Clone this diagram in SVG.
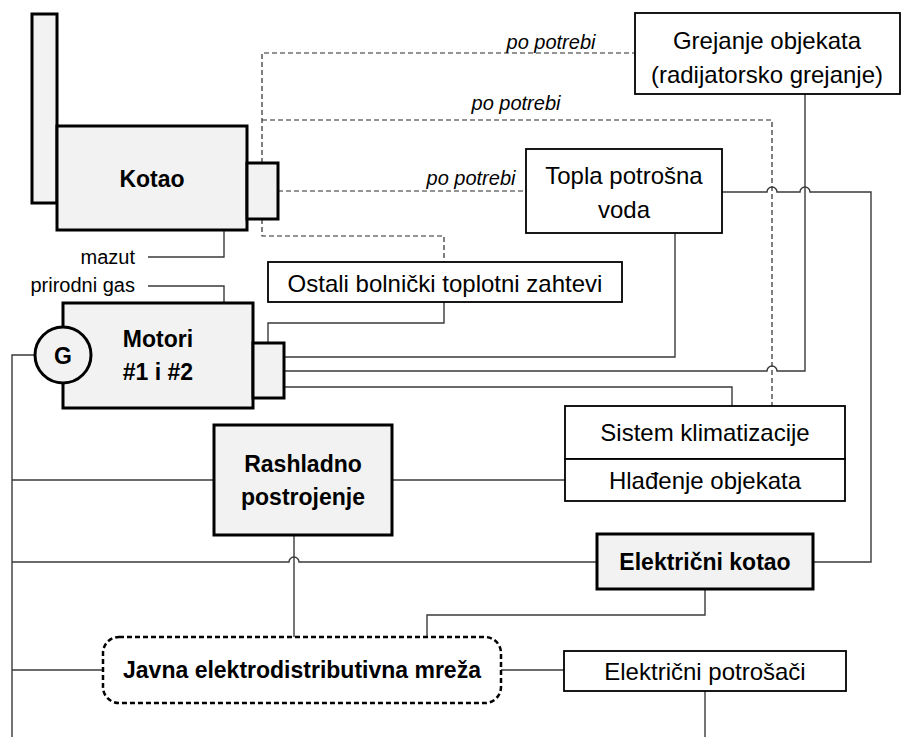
<svg xmlns="http://www.w3.org/2000/svg" width="904" height="737" viewBox="0 0 904 737">
<style>
text{font-family:"Liberation Sans",Arial,sans-serif;fill:#000;text-anchor:middle;dominant-baseline:central}
.r{font-size:24px}
.b{font-size:23px;font-weight:bold}
.i{font-size:20px;font-style:italic}
.s{font-size:20px}
.g{fill:#f2f2f2;stroke:#000;stroke-width:3}
.w{fill:#fff;stroke:#000;stroke-width:1.8}
.c{fill:none;stroke:#3a3a3a;stroke-width:1.4}
.d{fill:none;stroke:#2a2a2a;stroke-width:1.2;stroke-dasharray:5 3}
</style>
<rect width="904" height="737" fill="#fff"/>
<g id="connectors">
<path class="d" d="M262,219 V53 H635"/>
<path class="d" d="M262,120 H772 V406"/>
<path class="d" d="M278,191 H526"/>
<path class="d" d="M262,219 V236 H444 V262"/>
<path class="c" d="M722,192 H767 A5,5 0 0 1 777,192 H800 A5,5 0 0 1 810,192 H871 V562 H813"/>
<path class="c" d="M805,94 V371 H777 A5,5 0 0 0 767,371 H284"/>
<path class="c" d="M675,233 V357 H284"/>
<path class="c" d="M732,406 V387 H284"/>
<path class="c" d="M444,302 V323 H268 V343"/>
<path class="c" d="M148,257 H224 V230"/>
<path class="c" d="M148,286 H224 V303"/>
<path class="c" d="M35,355 H12 V737"/>
<path class="c" d="M12,480 H214"/>
<path class="c" d="M392,480 H565"/>
<path class="c" d="M12,562 H289 A5,5 0 0 1 299,562 H597"/>
<path class="c" d="M294,535 V637"/>
<path class="c" d="M705,589 V615 H427 V637"/>
<path class="c" d="M12,670 H103"/>
<path class="c" d="M501,670 H564"/>
<path class="c" d="M705,691 V737"/>
</g>
<g id="kotao">
<rect class="g" x="32" y="14" width="25" height="189"/>
<rect class="g" x="57" y="126" width="190" height="104"/>
<rect class="g" x="247" y="163" width="31" height="56"/>
<text class="b" x="152" y="179">Kotao</text>
</g>
<g id="labels">
<text class="i" x="551" y="42">po potrebi</text>
<text class="i" x="516" y="103">po potrebi</text>
<text class="i" x="471" y="178">po potrebi</text>
<text class="s" x="135" y="257" style="text-anchor:end">mazut</text>
<text class="s" x="135" y="285" style="text-anchor:end">prirodni gas</text>
</g>
<g id="grejanje">
<rect class="w" x="635" y="13" width="265" height="81"/>
<text class="r" x="767" y="40">Grejanje objekata</text>
<text class="r" x="767" y="74">(radijatorsko grejanje)</text>
</g>
<g id="topla">
<rect class="w" x="526" y="149" width="196" height="84"/>
<text class="r" x="624" y="175">Topla potrošna</text>
<text class="r" x="624" y="209">voda</text>
</g>
<g id="ostali">
<rect class="w" x="268" y="262" width="354" height="40"/>
<text class="r" x="445" y="283">Ostali bolnički toplotni zahtevi</text>
</g>
<g id="motori">
<rect class="g" x="63" y="303" width="190" height="105"/>
<rect class="g" x="253" y="343" width="31" height="55"/>
<circle class="g" cx="63" cy="355" r="28"/>
<text class="b" x="63" y="356">G</text>
<text class="b" x="158" y="339">Motori</text>
<text class="b" x="158" y="372">#1 i #2</text>
</g>
<g id="klimatizacija">
<rect class="w" x="565" y="406" width="280" height="53"/>
<text class="r" x="705" y="432">Sistem klimatizacije</text>
</g>
<g id="hladjenje">
<rect class="w" x="565" y="459" width="280" height="42"/>
<text class="r" x="705" y="480">Hlađenje objekata</text>
</g>
<g id="rashladno">
<rect class="g" x="214" y="425" width="178" height="110"/>
<text class="b" x="303" y="464">Rashladno</text>
<text class="b" x="303" y="497">postrojenje</text>
</g>
<g id="elkotao">
<rect class="g" x="597" y="534" width="216" height="55"/>
<text class="b" x="705" y="562">Električni kotao</text>
</g>
<g id="javna">
<rect x="103" y="637" width="398" height="66" rx="16" fill="#fff" stroke="#000" stroke-width="2.5" stroke-dasharray="5 3"/>
<text class="b" x="302" y="670">Javna elektrodistributivna mreža</text>
</g>
<g id="potrosaci">
<rect class="w" x="564" y="651" width="282" height="40"/>
<text class="r" x="705" y="671">Električni potrošači</text>
</g>
</svg>
